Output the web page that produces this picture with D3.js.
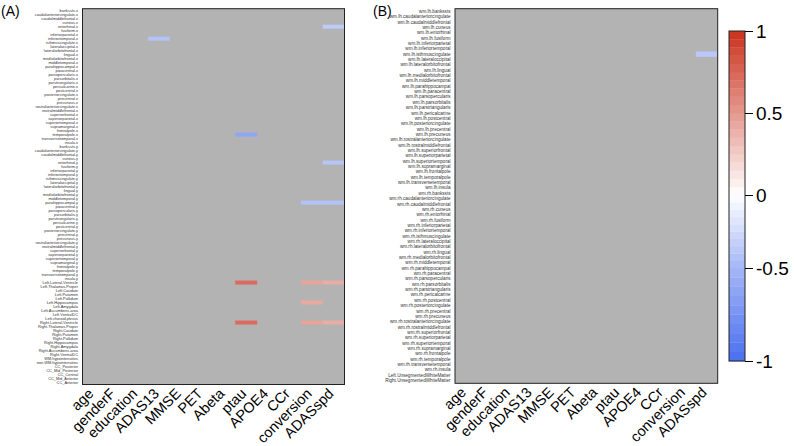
<!DOCTYPE html>
<html><head><meta charset="utf-8">
<script src="https://cdn.jsdelivr.net/npm/d3@7"></script>
<style>
body{margin:0;background:#fff}
text{font-family:"Liberation Sans",Arial,Helvetica,sans-serif}
</style>
</head><body>
<svg id="c" width="794" height="446"></svg>
<script>
// ---------- DATA ----------
const columns = ["age","genderF","education","ADAS13","MMSE","PET","Abeta","ptau","APOE4","CCr","conversion","ADASspd"];

const cortical = ["bankssts","caudalanteriorcingulate","caudalmiddlefrontal","cuneus","entorhinal","fusiform",
 "inferiorparietal","inferiortemporal","isthmuscingulate","lateraloccipital","lateralorbitofrontal","lingual",
 "medialorbitofrontal","middletemporal","parahippocampal","paracentral","parsopercularis","parsorbitalis",
 "parstriangularis","pericalcarine","postcentral","posteriorcingulate","precentral","precuneus",
 "rostralanteriorcingulate","rostralmiddlefrontal","superiorfrontal","superiorparietal","superiortemporal",
 "supramarginal","frontalpole","temporalpole","transversetemporal","insula"];

const subcortical = ["Left.Lateral.Ventricle","Left.Thalamus.Proper","Left.Caudate","Left.Putamen","Left.Pallidum",
 "Left.Hippocampus","Left.Amygdala","Left.Accumbens.area","Left.VentralDC","Left.choroid.plexus",
 "Right.Lateral.Ventricle","Right.Thalamus.Proper","Right.Caudate","Right.Putamen","Right.Pallidum",
 "Right.Hippocampus","Right.Amygdala","Right.Accumbens.area","Right.VentralDC",
 "WM.hypointensities","non.WM.hypointensities","CC_Posterior","CC_Mid_Posterior","CC_Central",
 "CC_Mid_Anterior","CC_Anterior"];

const rowsA = cortical.map(d => d + ".x").concat(cortical.map(d => d + ".y"), subcortical);
const rowsB = cortical.map(d => "wm.lh." + d).concat(cortical.map(d => "wm.rh." + d),
 ["Left.UnsegmentedWhiteMatter","Right.UnsegmentedWhiteMatter"]);

// non-zero (significant) correlations; all other cells are NA (grey)
const cellRowA = ["entorhinal.x","inferiortemporal.x","temporalpole.x","entorhinal.y","parahippocampal.y","parahippocampal.y",
 "Left.Lateral.Ventricle","Left.Lateral.Ventricle","Left.Lateral.Ventricle","Left.Hippocampus",
 "Right.Lateral.Ventricle","Right.Lateral.Ventricle","Right.Lateral.Ventricle"];
const cellColA = ["ADASspd","ADAS13","ptau","ADASspd","conversion","ADASspd",
 "ptau","conversion","ADASspd","conversion","ptau","conversion","ADASspd"];
const cellValA = [-0.36,-0.42,-0.62,-0.4,-0.42,-0.42,0.72,0.45,0.4,0.42,0.72,0.45,0.4];

const cellRowB = ["wm.lh.isthmuscingulate"];
const cellColB = ["ADASspd"];
const cellValB = [-0.38];

const legendTicks = [-1,-0.5,0,0.5,1];

// ---------- DRAW ----------
const svg = d3.select("#c");
const color = d3.scaleLinear().domain([-1,0,1]).range(["#4a6fee","#ffffff","#cb321e"]);
const NA = "#b3b3b3";

function panel(opts){
  const {rows, x0, x1, y0, y1, cr, cc, cv, labFont, title, titleX} = opts;
  const g = svg.append("g");
  const x = d3.scaleBand().domain(columns).range([x0, x1]);
  const y = d3.scaleBand().domain(rows).range([y0, y1]);
  g.append("rect").attr("x", x0).attr("y", y0).attr("width", x1-x0).attr("height", y1-y0).attr("fill", NA);
  g.selectAll("rect.cell").data(cv.map((v,i)=>({r:cr[i], c:cc[i], v})))
    .join("rect").attr("class","cell")
    .attr("x", d=>x(d.c)).attr("y", d=>y(d.r))
    .attr("width", x.bandwidth()).attr("height", y.bandwidth())
    .attr("fill", d=>color(d.v));
  g.append("rect").attr("x", x0).attr("y", y0).attr("width", x1-x0).attr("height", y1-y0)
    .attr("fill","none").attr("stroke","#222").attr("stroke-width",1);
  // row labels
  const ax = g.append("g").attr("transform", `translate(${x0},0)`)
    .call(d3.axisLeft(y).tickSize(0).tickPadding(4.5));
  ax.select(".domain").remove();
  ax.selectAll("text").attr("font-size", labFont).attr("fill","#333")
    .style("font-family","'Liberation Sans',Arial,sans-serif");
  // column labels
  g.selectAll("text.col").data(columns).join("text").attr("class","col")
    .attr("transform", d=>`translate(${x(d)+x.bandwidth()/2+1},${y1+10}) rotate(-45)`)
    .attr("text-anchor","end").attr("font-size",14.5).attr("fill","#000").text(d=>d);
  svg.append("text").attr("x", titleX).attr("y", 16).attr("font-size",14).text(title);
}

panel({rows: rowsA, x0: 82.5, x1: 344.5, y0: 8.7, y1: 384.5, cr: cellRowA, cc: cellColA, cv: cellValA, labFont: 3.9, title: "(A)", titleX: 1});
panel({rows: rowsB, x0: 455, x1: 717.7, y0: 8.7, y1: 383.3, cr: cellRowB, cc: cellColB, cv: cellValB, labFont: 4.6, title: "(B)", titleX: 373});

// colorbar
const cb = svg.append("g");
const yc = d3.scaleLinear().domain([-1,-0.5,0,0.5,1]).range([361,268,195,113,31]);
const bands = d3.range(40).map(i => -1 + i*0.05);
cb.selectAll("rect.band").data(bands).join("rect").attr("class","band")
  .attr("x",729).attr("width",16)
  .attr("y", d=>yc(d+0.05)).attr("height", d=>yc(d)-yc(d+0.05)+0.3)
  .attr("fill", d=>color(d+0.025));
cb.append("rect").attr("x",729).attr("y",31).attr("width",16).attr("height",330)
  .attr("fill","none").attr("stroke","#222").attr("stroke-width",1);
const cax = cb.append("g").attr("transform","translate(745,0)")
  .call(d3.axisRight(yc).tickValues(legendTicks).tickSize(8).tickPadding(3).tickFormat(d=>String(d)));
cax.select(".domain").remove();
cax.selectAll("line").attr("stroke","#000");
cax.selectAll("text").attr("font-size",19).attr("fill","#000")
  .style("font-family","'Liberation Sans',Arial,sans-serif");
</script>
</body></html>
